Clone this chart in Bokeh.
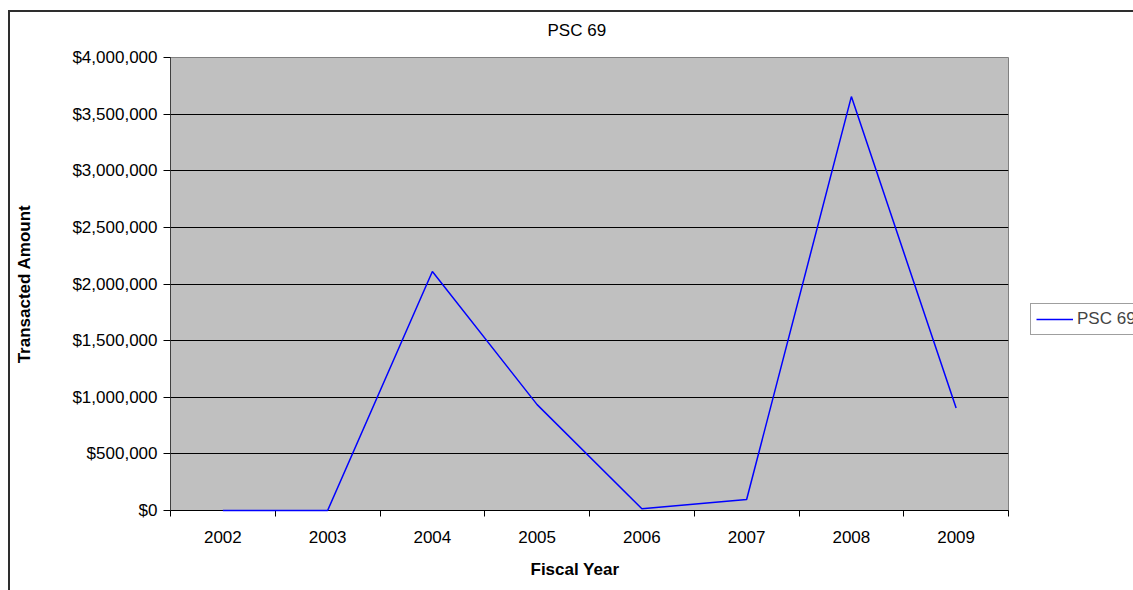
from bokeh.plotting import figure
from bokeh.models import (Range1d, FixedTicker, NumeralTickFormatter,
                          Legend, LegendItem, Title, ColumnDataSource)
from bokeh.embed import file_html
from bokeh.resources import INLINE

years = ["2002", "2003", "2004", "2005", "2006", "2007", "2008", "2009"]
amounts = [0, 0, 2110000, 935000, 15000, 97000, 3655000, 905000]
y_ticks = [0, 500000, 1000000, 1500000, 2000000, 2500000, 3000000, 3500000, 4000000]
title_text = "PSC 69"
series_name = "PSC 69"
x_title = "Fiscal Year"
y_title = "Transacted Amount"

FONT = "Liberation Sans"
FS = "17px"

# category slots: each year occupies one unit; points sit in slot centres
slot_centres = [i + 0.5 for i in range(len(years))]
slot_edges = list(range(len(years) + 1))

p = figure(x_range=Range1d(0, len(years)), y_range=Range1d(0, 4000000),
           frame_width=838, frame_height=453,
           min_border_left=170, min_border_right=125, min_border_top=57, min_border_bottom=80,
           output_backend="svg", toolbar_location=None,
           background_fill_color="#C0C0C0", border_fill_alpha=0)
p.outline_line_color = "#808080"
p.outline_line_width = 1
p.styles = {
    "background-color": "white",
    "background-image": "linear-gradient(#2e2e2e,#2e2e2e), linear-gradient(#2e2e2e,#2e2e2e)",
    "background-size": "100% 2px, 2px 100%",
    "background-position": "8px 10px, 8px 10px",
    "background-repeat": "no-repeat",
}

xa = p.xaxis[0]
xa.ticker = FixedTicker(ticks=slot_centres, minor_ticks=slot_edges)
xa.major_label_overrides = {c: y for c, y in zip(slot_centres, years)}
xa.major_tick_line_color = None
xa.minor_tick_line_color = "black"
xa.minor_tick_out = 6
xa.minor_tick_in = 0
xa.axis_line_color = "black"
xa.major_label_standoff = 14
xa.major_label_text_font = FONT
xa.major_label_text_font_size = FS
xa.major_label_text_color = "black"

ya = p.yaxis[0]
ya.ticker = FixedTicker(ticks=y_ticks)
ya.formatter = NumeralTickFormatter(format="$0,0")
ya.axis_label = y_title
ya.axis_line_color = "#404040"
ya.major_tick_line_color = "black"
ya.major_tick_out = 7
ya.major_tick_in = 0
ya.minor_tick_line_color = None
ya.major_label_standoff = 6
ya.major_label_text_font = FONT
ya.major_label_text_font_size = FS
ya.major_label_text_color = "black"
ya.axis_label_text_font = FONT
ya.axis_label_text_font_size = FS
ya.axis_label_text_font_style = "bold"
ya.axis_label_text_color = "black"
ya.axis_label_standoff = 35

p.xgrid.grid_line_color = None
p.ygrid.grid_line_color = "black"
p.ygrid.grid_line_width = 1

src = ColumnDataSource(data=dict(x=slot_centres, y=amounts, year=years))
r = p.line(x="x", y="y", source=src, line_color="#0000FF", line_width=1.5,
           level="overlay")

legend = Legend(items=[LegendItem(label=series_name, renderers=[r])],
                location=(22, 175), orientation="vertical",
                border_line_color="#404040", border_line_width=1,
                background_fill_color="white", background_fill_alpha=1,
                label_text_font=FONT, label_text_font_size=FS,
                glyph_width=37, glyph_height=16, label_standoff=4,
                padding=5, margin=0, spacing=0, label_height=16)
p.add_layout(legend, "right")

p.title = Title(text=title_text, align="left", offset=377, standoff=36,
                text_font=FONT, text_font_size=FS, text_font_style="normal",
                text_color="black")
p.add_layout(Title(text=x_title, align="left", offset=360, standoff=24,
                   text_font=FONT, text_font_size=FS, text_font_style="bold",
                   text_color="black"), "below")

open("out.html", "w").write(file_html(p, INLINE))
